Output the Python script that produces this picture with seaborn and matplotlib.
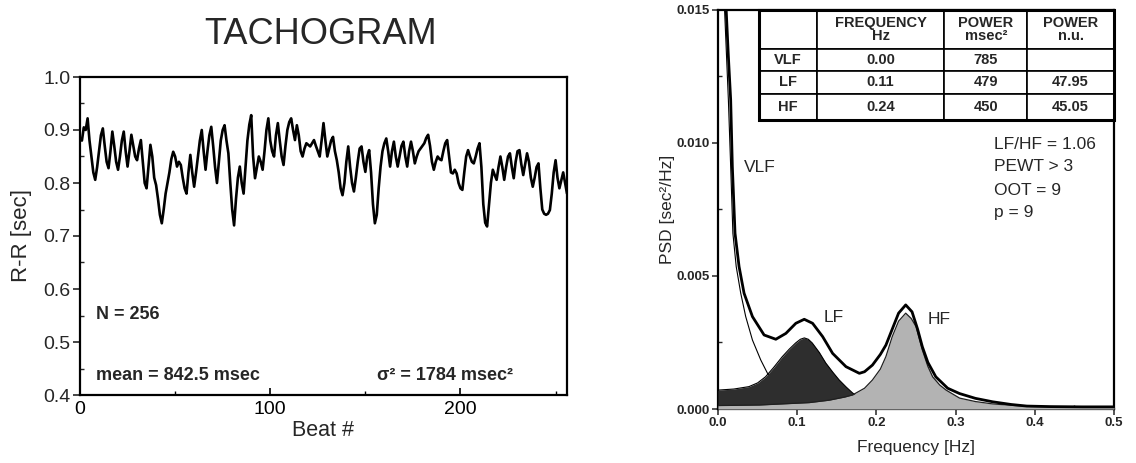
import numpy as np
import pandas as pd
import matplotlib
matplotlib.use("Agg")
import matplotlib.pyplot as plt
import seaborn as sns
from matplotlib.ticker import MultipleLocator

# ---------------- data ----------------
rr_values = [
    .88, .905, .90, .922, .88, .85, .82, .806, .83, .86,
    .89, .903, .87, .84, .828, .86, .897, .87, .84, .825,
    .85, .88, .897, .86, .831, .86, .891, .87, .85, .843,
    .865, .881, .84, .80, .79, .83, .872, .85, .81, .796,
    .77, .74, .724, .75, .78, .80, .82, .845, .859, .85,
    .831, .84, .834, .81, .79, .78, .82, .853, .82, .793,
    .82, .85, .88, .90, .86, .825, .86, .89, .906, .87,
    .83, .80, .84, .88, .90, .909, .88, .856, .80, .75,
    .72, .77, .81, .831, .80, .78, .83, .88, .91, .928,
    .85, .809, .83, .85, .84, .825, .86, .90, .922, .88,
    .86, .85, .89, .913, .88, .85, .834, .87, .90, .915,
    .922, .90, .881, .909, .89, .86, .85, .865, .875, .872,
    .869, .875, .881, .87, .86, .85, .88, .913, .88, .85,
    .865, .88, .887, .86, .843, .82, .79, .777, .80, .84,
    .869, .83, .80, .784, .81, .84, .865, .869, .84, .821,
    .85, .862, .82, .76, .724, .74, .79, .831, .86, .875,
    .884, .86, .831, .86, .878, .85, .831, .85, .87, .878,
    .85, .831, .86, .878, .86, .837, .85, .86, .865, .87,
    .875, .885, .891, .87, .84, .825, .84, .85, .845, .843,
    .86, .875, .881, .85, .82, .818, .825, .818, .80, .79,
    .787, .82, .85, .862, .85, .84, .837, .85, .865, .875,
    .83, .76, .725, .718, .76, .80, .825, .815, .806, .83,
    .85, .83, .806, .83, .85, .856, .83, .809, .84, .86,
    .862, .835, .815, .835, .856, .84, .81, .793, .81, .83,
    .837, .79, .75, .742, .74, .742, .749, .78, .82, .843,
    .81, .79, .805, .82, .80, .78,
]
beats = list(range(1, len(rr_values) + 1))

total_f = [0.010, 0.013, 0.016, 0.0181, 0.0215, 0.0266, 0.0329, 0.0435, 0.0582,
           0.073, 0.0857, 0.0983, 0.1089, 0.1194, 0.1321, 0.1447, 0.1616, 0.1785,
           0.185, 0.195, 0.205, 0.212, 0.220, 0.228, 0.237, 0.245, 0.252, 0.258,
           0.265, 0.275, 0.290, 0.305, 0.325, 0.347, 0.370, 0.390, 0.420, 0.460, 0.500]
total_psd = [0.0152, 0.0133, 0.01162, 0.00911, 0.0066, 0.00535, 0.00435, 0.00347, 0.00278,
             0.00262, 0.00284, 0.00322, 0.00337, 0.00322, 0.00272, 0.00209, 0.00159, 0.00134,
             0.00140, 0.00165, 0.00205, 0.00240, 0.00300, 0.00360, 0.00391, 0.00365, 0.00300, 0.00234,
             0.00175, 0.00121, 0.00078, 0.00058, 0.00040, 0.00027, 0.00017, 0.00011, 0.00009, 0.00008, 0.00008]

vlf_f = [0.008, 0.0131, 0.016, 0.0188, 0.023, 0.0287, 0.035, 0.0435, 0.054, 0.0625, 0.073, 0.09]
vlf_psd = [0.0152, 0.01162, 0.00911, 0.0066, 0.00535, 0.00435, 0.00347, 0.00259, 0.00184, 0.00134, 0.00096, 0.0006]

lf_f = [0.0, 0.02, 0.039, 0.05, 0.06, 0.07, 0.081, 0.09, 0.098, 0.104, 0.109, 0.114,
        0.119, 0.128, 0.136, 0.145, 0.153, 0.162, 0.170, 0.18, 0.19, 0.20, 0.22, 0.25, 0.30, 0.50]
lf_psd = [0.00071, 0.00075, 0.00084, 0.00098, 0.00121, 0.00155, 0.00196, 0.00225, 0.00248, 0.00262, 0.00267, 0.00262,
          0.00248, 0.00212, 0.00173, 0.00138, 0.00109, 0.00082, 0.0006, 0.0004, 0.00027, 0.00018, 0.0001, 0.00006, 0.00003, 0.00001]

hf_f = [0.0, 0.052, 0.08, 0.115, 0.14, 0.16, 0.17, 0.185, 0.195, 0.205, 0.212, 0.22, 0.228,
        0.237, 0.244, 0.25, 0.258, 0.265, 0.271, 0.28, 0.288, 0.305, 0.325, 0.347, 0.39, 0.45, 0.50]
hf_psd = [0.00013, 0.00015, 0.00019, 0.00024, 0.00033, 0.00045, 0.00053, 0.00078, 0.00109, 0.0015, 0.00197, 0.00272, 0.0033,
          0.0036, 0.0034, 0.0031, 0.00222, 0.0016, 0.00121, 0.0009, 0.00071, 0.00041, 0.00028, 0.00019, 0.0001, 0.00007, 0.00006]

table_rows = ["VLF", "LF", "HF"]
table_cols = ["", "FREQUENCY\nHz", "POWER\nmsec²", "POWER\nn.u."]
table_freq = ["0.00", "0.11", "0.24"]
table_power = ["785", "479", "450"]
table_nu = ["", "47.95", "45.05"]

notes = ["LF/HF = 1.06", "PEWT > 3", "OOT = 9", "p = 9"]

# ---------------- style ----------------
sns.set_theme(style="ticks")
plt.rcParams['font.family'] = ['Liberation Sans', 'DejaVu Sans']

fig = plt.figure(figsize=(11.36, 4.63), dpi=100)
fig.patch.set_facecolor("white")

# ---------------- left: tachogram ----------------
ax1 = fig.add_axes([80 / 1136, 1 - 395 / 463, (567 - 80) / 1136, (395 - 77) / 463])
df = pd.DataFrame({"beat": beats, "rr": rr_values})
sns.lineplot(data=df, x="beat", y="rr", ax=ax1, color="black", linewidth=1.9)
ax1.set_xlim(0, 256)
ax1.set_ylim(0.4, 1.0)
ax1.xaxis.set_major_locator(MultipleLocator(100))
ax1.xaxis.set_minor_locator(MultipleLocator(50))
ax1.yaxis.set_major_locator(MultipleLocator(0.1))
ax1.yaxis.set_minor_locator(MultipleLocator(0.05))
ax1.yaxis.set_major_formatter(matplotlib.ticker.FormatStrFormatter("%.1f"))
ax1.tick_params(axis="x", which="both", direction="in", labelsize=14, colors="black", pad=4)
ax1.tick_params(axis="x", which="major", length=5, width=1.2)
ax1.tick_params(axis="x", which="minor", length=3, width=1.0)
ax1.tick_params(axis="y", which="major", direction="out", length=5, width=1.2, labelsize=14, pad=2)
ax1.tick_params(axis="y", which="minor", direction="in", length=3, width=1.0)
for s in ax1.spines.values():
    s.set_linewidth(1.6)
    s.set_color("black")
    s.set_visible(True)
ax1.set_xlabel("Beat #", fontsize=15.5, labelpad=2)
ax1.set_ylabel("R-R [sec]", fontsize=16, labelpad=8)
ax1.text(8.4, 0.551, "N = 256", fontsize=13, fontweight="bold", va="center", ha="left")
ax1.text(8.4, 0.437, "mean = 842.5 msec", fontsize=13, fontweight="bold", va="center", ha="left")
ax1.text(156, 0.437, "σ² = 1784 msec²", fontsize=13, fontweight="bold", va="center", ha="left")
fig.text(321 / 1136, 1 - 35 / 463, "TACHOGRAM", fontsize=26, ha="center", va="center")

# ---------------- right: PSD ----------------
ax2 = fig.add_axes([718 / 1136, 1 - 409 / 463, (1114 - 718) / 1136, (409 - 9.7) / 463])
sns.lineplot(x=vlf_f, y=vlf_psd, ax=ax2, color="black", linewidth=0.8, zorder=2, sort=False)
ax2.fill_between(lf_f, 0, lf_psd, color="#2e2e2e", linewidth=0, zorder=3)
ax2.plot(lf_f, lf_psd, color="black", linewidth=0.8, zorder=3)
ax2.fill_between(hf_f, 0, hf_psd, color="#b3b3b3", linewidth=0, zorder=4)
ax2.plot(hf_f, hf_psd, color="#202020", linewidth=0.9, zorder=4)
sns.lineplot(x=total_f, y=total_psd, ax=ax2, color="black", linewidth=2.0, zorder=5, sort=False)
ax2.set_xlim(0, 0.5)
ax2.set_ylim(0, 0.015)
ax2.xaxis.set_major_locator(MultipleLocator(0.1))
ax2.xaxis.set_minor_locator(MultipleLocator(0.05))
ax2.yaxis.set_major_locator(MultipleLocator(0.005))
ax2.yaxis.set_minor_locator(MultipleLocator(0.0025))
ax2.xaxis.set_major_formatter(matplotlib.ticker.FormatStrFormatter("%.1f"))
ax2.yaxis.set_major_formatter(matplotlib.ticker.FormatStrFormatter("%.3f"))
ax2.tick_params(axis="both", which="major", direction="out", length=4, width=1.1, labelsize=9.5, pad=2)
ax2.tick_params(axis="both", which="minor", direction="in", length=3, width=1.0)
for lab in ax2.get_xticklabels() + ax2.get_yticklabels():
    lab.set_fontweight("bold")
for s in ax2.spines.values():
    s.set_linewidth(1.6)
    s.set_color("black")
    s.set_visible(True)
ax2.set_xlabel("Frequency [Hz]", fontsize=12.5, labelpad=8)
ax2.set_ylabel("PSD [sec²/Hz]", fontsize=12.5, labelpad=1)

ax2.text(0.033, 0.00906, "VLF", fontsize=12.5, va="center", ha="left", zorder=6)
ax2.text(0.133, 0.00342, "LF", fontsize=12.5, va="center", ha="left", zorder=6)
ax2.text(0.2645, 0.00335, "HF", fontsize=12.5, va="center", ha="left", zorder=6)
note_y = [0.00992, 0.0091, 0.0082, 0.00737]
for t, yv in zip(notes, note_y):
    ax2.text(0.349, yv, t, fontsize=12.5, va="center", ha="left", zorder=6)

# table
cell_text = [table_cols] + [[r, f, p, n] for r, f, p, n in zip(table_rows, table_freq, table_power, table_nu)]
x0 = (759 - 718) / 396
y0 = (409 - 120) / 399.3
tbl = ax2.table(cellText=cell_text, cellLoc="center",
                colWidths=[58, 128, 83, 87],
                bbox=[x0, y0, 1 - x0, 1 - y0], zorder=7)
tbl.auto_set_font_size(False)
row_h = [39, 22, 23, 26]
for (r, c), cell in tbl.get_celld().items():
    cell.set_height(row_h[r])
    cell.set_linewidth(1.2)
    cell.set_edgecolor("black")
    cell.set_facecolor("white")
    cell.get_text().set_fontsize(10.5)
    cell.get_text().set_fontweight("bold")
    cell.get_text().set_linespacing(0.95)
outer = plt.Rectangle((x0, y0), 1 - x0, 1 - y0, transform=ax2.transAxes, fill=False,
                      edgecolor="black", linewidth=2.2, zorder=8, clip_on=False)
ax2.add_patch(outer)

fig.savefig("out.png", dpi=100, facecolor="white")
